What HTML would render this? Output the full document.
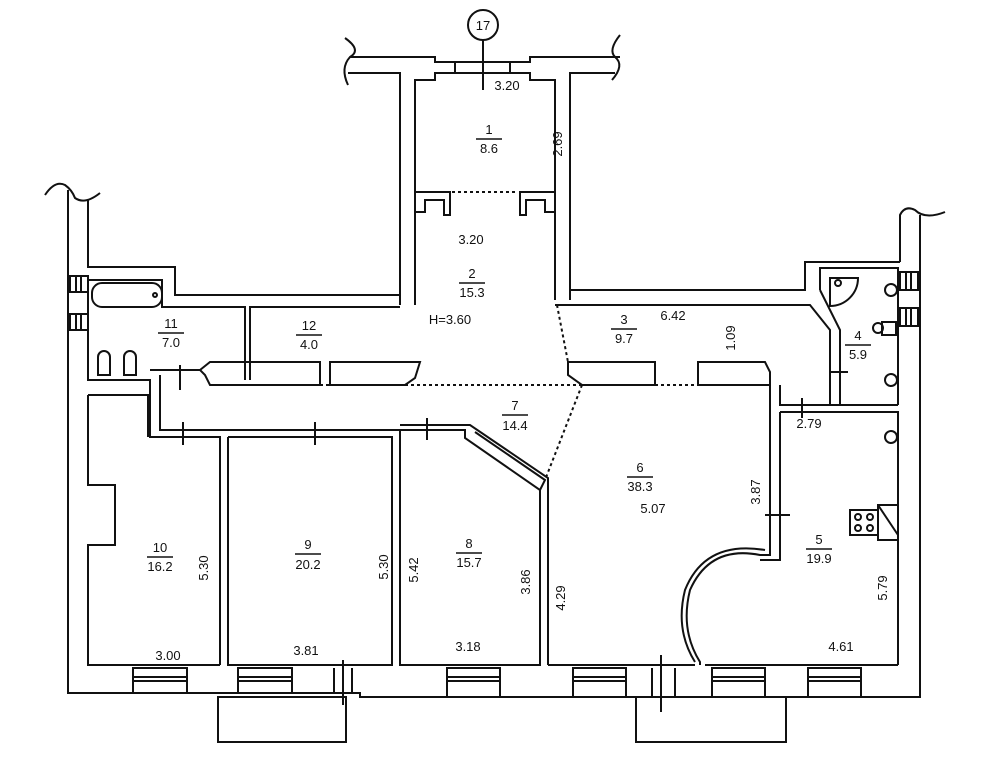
<!DOCTYPE html>
<html><head><meta charset="utf-8"><style>
html,body{margin:0;padding:0;background:#fff}
svg{display:block}
text{font-family:"Liberation Sans",sans-serif;font-size:13px;fill:#111}
</style></head><body>
<svg width="1000" height="767" viewBox="0 0 1000 767" xmlns="http://www.w3.org/2000/svg">
<g fill="none" stroke="#111" stroke-width="2">
<circle cx="483" cy="25" r="15"/>
<line x1="483" y1="40" x2="483" y2="90"/>
<path d="M345 38 Q362 50 350 57 Q340 68 348 85"/>
<path d="M350 57 L435 57 L435 62 L530 62 L530 57 L620 57"/>
<path d="M348 73 L400 73 L400 305"/>
<path d="M415 305 L415 80 L435 80 L435 73 L530 73 L530 80 L555 80 L555 300"/>
<path d="M620 35 Q608 50 615 57 Q625 65 612 80"/>
<path d="M570 300 L570 73 L615 73"/>
<line x1="455" y1="62" x2="455" y2="73"/><line x1="510" y1="62" x2="510" y2="73"/>
<path d="M415 192 L450 192 L450 215 L444 215 L444 200 L425 200 L425 212 L415 212"/>
<path d="M555 192 L520 192 L520 215 L526 215 L526 200 L545 200 L545 212 L555 212"/>
<line x1="452" y1="192" x2="518" y2="192" stroke-dasharray="3,3"/>
<path d="M45 195 Q55 180 65 185 Q72 190 75 198 Q85 205 100 193"/>
<path d="M68 190 L68 693 L360 693 L360 697 L920 697 L920 215"/>
<path d="M88 200 L88 267 L175 267 L175 295 L400 295"/>
<path d="M88 280 L162 280 L162 307 L245 307 L245 380"/>
<path d="M250 380 L250 307 L400 307"/>
<path d="M88 280 L88 380 L150 380 L150 437 L220 437 L220 665"/>
<path d="M160 375 L160 430 L400 430"/>
<path d="M150 370 L200 370"/>
<path d="M88 395 L148 395 L148 437"/>
<path d="M88 395 L88 485 L115 485 L115 545 L88 545 L88 665 L220 665"/>
<path d="M228 437 L228 665 L392 665 L392 437 L228 437"/>
<path d="M400 430 L400 665 L540 665 L540 490 L465 438 L465 430 L400 430"/>
<path d="M400 425 L470 425 L548 478 L548 665"/>
<path d="M475 432 L545 480 L540 490" />
<path d="M200 370 L210 362 L320 362 L320 385 L210 385 L205 375 Z"/>
<path d="M330 362 L420 362 L415 378 L405 385 L330 385 Z"/>
<path d="M568 362 L655 362 L655 385 L582 385 L568 375 Z"/>
<path d="M698 362 L765 362 L770 372 L770 385 L698 385 Z"/>
<line x1="320" y1="385" x2="330" y2="385" stroke-dasharray="3,3"/>
<line x1="405" y1="385" x2="582" y2="385" stroke-dasharray="3,3"/>
<line x1="655" y1="385" x2="698" y2="385" stroke-dasharray="3,3"/>
<line x1="557" y1="305" x2="568" y2="362" stroke-dasharray="3,3"/>
<line x1="582" y1="385" x2="545" y2="480" stroke-dasharray="3,3"/>
<path d="M570 290 L805 290 L805 262 L900 262"/>
<path d="M555 305 L810 305 L830 330 L830 405"/>
<path d="M820 290 L820 268 L898 268 L898 405"/>
<path d="M820 290 L840 330 L840 405"/>
<path d="M770 385 L770 555 L760 555 Q710 545 690 590 Q680 630 700 662 L700 665"/>
<path d="M780 385 L780 405 L898 405"/>
<path d="M780 412 L898 412 L898 665"/>
<path d="M780 412 L780 560 L760 560"/>
<path d="M548 665 L695 665"/><path d="M705 665 L898 665"/>
<path d="M765 550 Q705 540 685 590 Q675 630 695 662"/>
<path d="M900 262 L900 215 Q905 205 915 210 Q925 220 945 212"/>
<path d="M920 215 L920 697"/>
<g>
<rect x="133" y="668" width="54" height="25"/><line x1="133" y1="677" x2="187" y2="677"/><line x1="133" y1="681" x2="187" y2="681"/>
<rect x="238" y="668" width="54" height="25"/><line x1="238" y1="677" x2="292" y2="677"/><line x1="238" y1="681" x2="292" y2="681"/>
<rect x="447" y="668" width="53" height="29"/><line x1="447" y1="677" x2="500" y2="677"/><line x1="447" y1="681" x2="500" y2="681"/>
<rect x="573" y="668" width="53" height="29"/><line x1="573" y1="677" x2="626" y2="677"/><line x1="573" y1="681" x2="626" y2="681"/>
<rect x="712" y="668" width="53" height="29"/><line x1="712" y1="677" x2="765" y2="677"/><line x1="712" y1="681" x2="765" y2="681"/>
<rect x="808" y="668" width="53" height="29"/><line x1="808" y1="677" x2="861" y2="677"/><line x1="808" y1="681" x2="861" y2="681"/>
</g>
<rect x="218" y="697" width="128" height="45"/>
<rect x="636" y="697" width="150" height="45"/>
<line x1="334" y1="668" x2="334" y2="693"/><line x1="352" y1="668" x2="352" y2="693"/><line x1="343" y1="660" x2="343" y2="705"/>
<line x1="652" y1="668" x2="652" y2="697"/><line x1="675" y1="668" x2="675" y2="697"/><line x1="661" y1="655" x2="661" y2="712"/>
<rect x="900" y="272" width="18" height="18"/><line x1="906" y1="272" x2="906" y2="290"/><line x1="911" y1="272" x2="911" y2="290"/>
<rect x="900" y="308" width="18" height="18"/><line x1="906" y1="308" x2="906" y2="326"/><line x1="911" y1="308" x2="911" y2="326"/>
<rect x="70" y="276" width="18" height="16"/><line x1="76" y1="276" x2="76" y2="292"/><line x1="81" y1="276" x2="81" y2="292"/>
<rect x="70" y="314" width="18" height="16"/><line x1="76" y1="314" x2="76" y2="330"/><line x1="81" y1="314" x2="81" y2="330"/>
<line x1="180" y1="365" x2="180" y2="390"/><line x1="183" y1="422" x2="183" y2="445"/>
<line x1="315" y1="422" x2="315" y2="445"/><line x1="427" y1="418" x2="427" y2="440"/>
<line x1="830" y1="372" x2="848" y2="372"/><line x1="802" y1="398" x2="802" y2="418"/>
<line x1="765" y1="515" x2="790" y2="515"/>
<rect x="92" y="283" width="70" height="24" rx="10"/>
<circle cx="155" cy="295" r="2"/>
<path d="M98 357 a6 6 0 0 1 12 0 v18 h-12 z"/><path d="M124 357 a6 6 0 0 1 12 0 v18 h-12 z"/>
<path d="M830 278 L858 278 A28 28 0 0 1 830 306 Z"/><circle cx="838" cy="283" r="3"/>
<circle cx="891" cy="290" r="6"/><circle cx="891" cy="380" r="6"/><circle cx="891" cy="437" r="6"/>
<circle cx="878" cy="328" r="5"/><rect x="882" y="322" width="14" height="13"/>
<rect x="850" y="510" width="28" height="25"/><path d="M878 505 L898 505 L898 540 L878 540 Z M878 505 L898 535"/>
<circle cx="858" cy="517" r="3"/><circle cx="870" cy="517" r="3"/><circle cx="858" cy="528" r="3"/><circle cx="870" cy="528" r="3"/>
</g>
<g text-anchor="middle" stroke-width="1.6">
<text x="507" y="90">3.20</text>
<text x="489" y="134">1</text><line x1="476" y1="139" x2="502" y2="139" stroke="#111"/><text x="489" y="153">8.6</text>
<text x="562" y="144" transform="rotate(-90 562 144)">2.69</text>
<text x="471" y="244">3.20</text>
<text x="472" y="278">2</text><line x1="459" y1="283" x2="485" y2="283" stroke="#111"/><text x="472" y="297">15.3</text>
<text x="450" y="324">H=3.60</text>
<text x="171" y="328">11</text><line x1="158" y1="333" x2="184" y2="333" stroke="#111"/><text x="171" y="347">7.0</text>
<text x="309" y="330">12</text><line x1="296" y1="335" x2="322" y2="335" stroke="#111"/><text x="309" y="349">4.0</text>
<text x="624" y="324">3</text><line x1="611" y1="329" x2="637" y2="329" stroke="#111"/><text x="624" y="343">9.7</text>
<text x="673" y="320">6.42</text>
<text x="735" y="338" transform="rotate(-90 735 338)">1.09</text>
<text x="858" y="340">4</text><line x1="845" y1="345" x2="871" y2="345" stroke="#111"/><text x="858" y="359">5.9</text>
<text x="515" y="410">7</text><line x1="502" y1="415" x2="528" y2="415" stroke="#111"/><text x="515" y="430">14.4</text>
<text x="809" y="428">2.79</text>
<text x="640" y="472">6</text><line x1="627" y1="477" x2="653" y2="477" stroke="#111"/><text x="640" y="491">38.3</text>
<text x="760" y="492" transform="rotate(-90 760 492)">3.87</text>
<text x="653" y="513">5.07</text>
<text x="819" y="544">5</text><line x1="806" y1="549" x2="832" y2="549" stroke="#111"/><text x="819" y="563">19.9</text>
<text x="160" y="552">10</text><line x1="147" y1="557" x2="173" y2="557" stroke="#111"/><text x="160" y="571">16.2</text>
<text x="308" y="549">9</text><line x1="295" y1="554" x2="321" y2="554" stroke="#111"/><text x="308" y="569">20.2</text>
<text x="469" y="548">8</text><line x1="456" y1="553" x2="482" y2="553" stroke="#111"/><text x="469" y="567">15.7</text>
<text x="208" y="568" transform="rotate(-90 208 568)">5.30</text>
<text x="388" y="567" transform="rotate(-90 388 567)">5.30</text>
<text x="418" y="570" transform="rotate(-90 418 570)">5.42</text>
<text x="530" y="582" transform="rotate(-90 530 582)">3.86</text>
<text x="565" y="598" transform="rotate(-90 565 598)">4.29</text>
<text x="887" y="588" transform="rotate(-90 887 588)">5.79</text>
<text x="168" y="660">3.00</text>
<text x="306" y="655">3.81</text>
<text x="468" y="651">3.18</text>
<text x="841" y="651">4.61</text>
<text x="483" y="30">17</text>
</g>
</svg>
</body></html>
